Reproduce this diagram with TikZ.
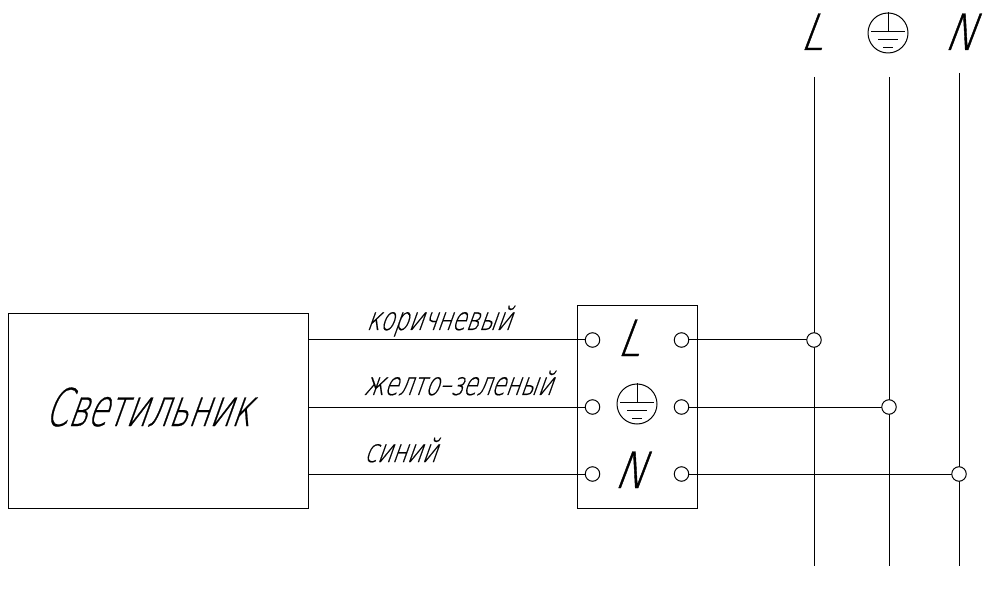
\documentclass[tikz,border=0pt]{standalone}
\usepackage{fontspec}
\newfontfamily\gostfont[FakeSlant=0.36,FakeStretch=0.635,FakeBold=0.4]{DejaVu Sans ExtraLight}
\newfontfamily\labelfont[FakeSlant=0.36,FakeStretch=0.71,FakeBold=0.4]{DejaVu Sans ExtraLight}
\newfontfamily\polefont[FakeSlant=0.38,FakeStretch=0.82,FakeBold=0.8]{DejaVu Sans ExtraLight}

\tikzset{
  wire/.style={line width=1pt},
  boxnode/.style={draw, line width=1pt, inner sep=0pt},
  termnode/.style={circle, draw, fill=white, line width=1pt, inner sep=0pt, minimum size=14.5pt},
  wirelabel/.style={anchor=base west, inner sep=0pt, font=\labelfont\fontsize{32}{32}\selectfont},
  polelabel/.style={anchor=base, inner sep=0pt, font=\polefont\fontsize{50}{50}\selectfont},
  pics/earthsym/.style={code={
    \node[circle, draw, line width=1pt, inner sep=0pt, minimum size=40pt] (-ring) at (0,0) {};
    \draw[line width=0.9pt] (-ring.north) -- (0,-2);
    \draw[line width=0.9pt] (-17,-2) -- (17,-2);
    \draw[line width=0.9pt] (-10,6) -- (10,6);
    \draw[line width=0.9pt] (-5,14) -- (5,14);
  }}
}

\begin{document}
\begin{tikzpicture}[x=1pt, y=-1pt]

  \useasboundingbox (0,0) rectangle (985,593);

  \def\xleft{592.5}
  \def\xright{681.5}
  \def\ybot{566}

  % lamp and terminal block
  \node[boxnode, minimum width=300pt, minimum height=195pt] (lamp) at (158,411) {};
  \node[boxnode, minimum width=120pt, minimum height=202pt] (block) at (637,407) {};
  \node[anchor=base west, inner sep=0pt, font=\gostfont\fontsize{52}{52}\selectfont] (lamptext) at (44,426) {Светильник};

  % supply lines
  \foreach \name/\x/\ytop in {l/814/77, pe/889/77, n/959/73} {
    \coordinate (\name top) at (\x,\ytop);
    \coordinate (\name bot) at (\x,\ybot);
    \draw[wire] (\name top) -- (\name bot);
  }

  % terminals and wires
  \foreach \name/\y/\x in {l/340/814, pe/407/889, n/474/959} {
    \coordinate (\name lamp) at (lamp.east |- 0,\y);
    \node[termnode] (\name in) at (\xleft,\y) {};
    \node[termnode] (\name out) at (\xright,\y) {};
    \draw[wire] (\name lamp) -- (\name in);
    \draw[wire] (\name out) -- (\x,\y) node[termnode] (\name join) {};
  }

  % wire colours
  \node[wirelabel] (brown) at (366,330) {коричневый};
  \node[wirelabel] (yellowgreen) at (363,395) {желто–зеленый};
  \node[wirelabel] (blue) at (364,462) {синий};

  % pole letters
  \node[polelabel] (ltop) at (811,50) {L};
  \node[polelabel] (ntop) at (959,50) {N};
  \node[polelabel] (lblock) at (628,356) {L};
  \node[polelabel] (nblock) at (629,488) {N};
  \pic (petop) at (888,33) {earthsym};
  \pic (peblock) at (637,404) {earthsym};

\end{tikzpicture}
\end{document}
